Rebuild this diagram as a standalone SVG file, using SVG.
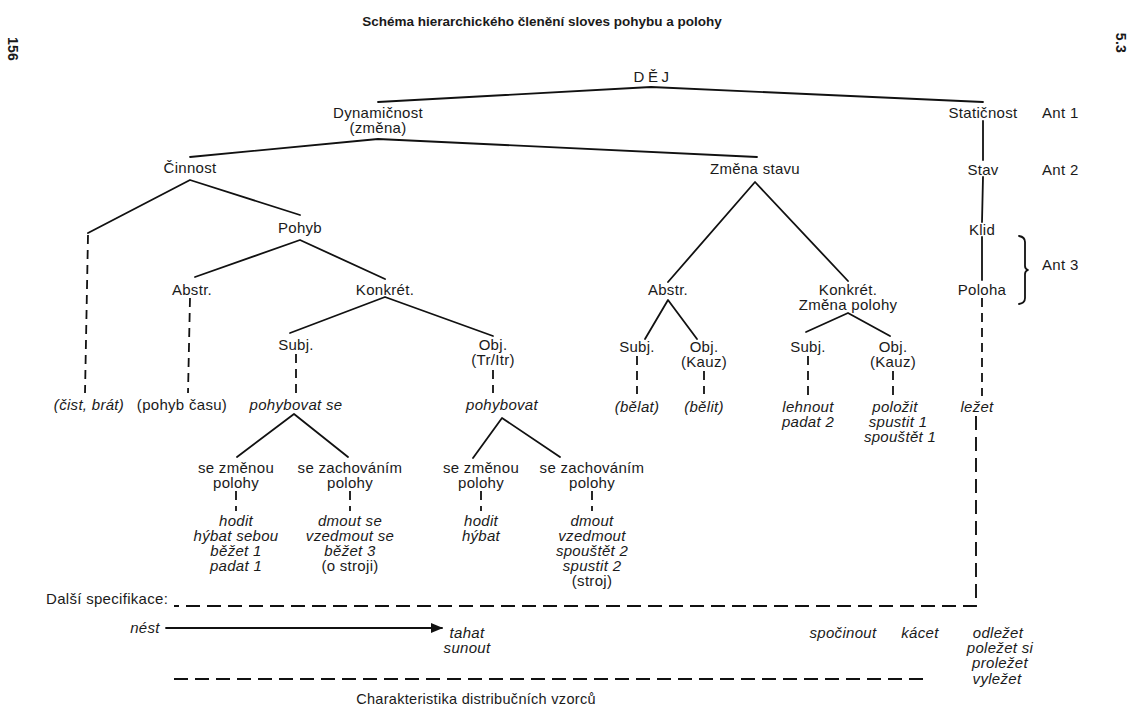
<svg xmlns="http://www.w3.org/2000/svg" width="1129" height="708" viewBox="0 0 1129 708">
  <style>
    text { font-family: "Liberation Sans", Arial, sans-serif; font-size: 15px; letter-spacing: 0.3px; fill: #1a1a1a; text-anchor: middle; }
    .it { font-style: italic; }
    .lbl { text-anchor: start; }
    .title { font-size: 13.5px; font-weight: bold; letter-spacing: 0; }
    .pg { font-size: 14px; font-weight: bold; }
    .cap { font-size: 14.5px; }
    .spaced { letter-spacing: 3.5px; }
    .ln { stroke: #111; stroke-width: 1.8; fill: none; stroke-linecap: round; stroke-linejoin: round; }
    .dv { stroke: #111; stroke-width: 1.8; fill: none; stroke-dasharray: 9 6; }
    .dh { stroke: #111; stroke-width: 1.9; fill: none; stroke-dasharray: 14 7; }
  </style>
  <defs>
    <marker id="arrow" viewBox="0 0 10 10" refX="9" refY="5" markerWidth="7" markerHeight="7" orient="auto">
      <path d="M0,1 L10,5 L0,9 z" fill="#111"/>
    </marker>
  </defs>
  <rect width="1129" height="708" fill="#ffffff"/>

  <!-- page furniture -->
  <text class="title" x="542" y="26">Schéma hierarchického členění sloves pohybu a polohy</text>
  <text class="pg" transform="translate(8,49) rotate(90)">156</text>
  <text class="pg" transform="translate(1116,43) rotate(90)">5.3</text>

  <!-- connectors -->
  <g id="connectors">
    <!-- solid tree edges -->
    <polyline class="ln" points="378,102 651,87 983,102"/>
    <polyline class="ln" points="190,157 378,139 757,157"/>
    <line class="ln" x1="983" y1="121" x2="983" y2="160"/>
    <line class="ln" x1="983" y1="177" x2="982" y2="222"/>
    <line class="ln" x1="982" y1="237" x2="982" y2="280"/>
    <polyline class="ln" points="88,233 190,180 300,215"/>
    <polyline class="ln" points="195,277 300,240 385,279"/>
    <polyline class="ln" points="290,333 385,297 493,336"/>
    <polyline class="ln" points="668,282 755,182 848,281"/>
    <polyline class="ln" points="645,339 668,300 697,339"/>
    <polyline class="ln" points="806,332 848,313 890,336"/>
    <polyline class="ln" points="237,457 294,414 348,457"/>
    <polyline class="ln" points="473,458 502,418 560,457"/>
    <!-- bracket for Ant 3 -->
    <path class="ln" d="M1019,236 q6,1 6,6 v24 q0,3 3,4 q-3,1 -3,4 v24 q0,5 -6,6" stroke-width="1.4"/>

    <!-- dashed links down to the verb rows -->
    <line class="dv" x1="88" y1="235" x2="85" y2="393"/>
    <line class="dv" x1="190" y1="298" x2="188" y2="393"/>
    <line class="dv" x1="296" y1="354" x2="296" y2="393"/>
    <line class="dv" x1="493" y1="370" x2="493" y2="393" stroke-dasharray="6 5"/>
    <line class="dv" x1="637" y1="356" x2="637" y2="394"/>
    <line class="dv" x1="704" y1="371" x2="704" y2="394" stroke-dasharray="6 5"/>
    <line class="dv" x1="808" y1="356" x2="808" y2="396"/>
    <line class="dv" x1="893" y1="371" x2="893" y2="396" stroke-dasharray="6 5"/>
    <line class="dv" x1="982" y1="298" x2="982" y2="396"/>
    <line class="dv" x1="236" y1="491" x2="236" y2="511" stroke-dasharray="7 5"/>
    <line class="dv" x1="350" y1="491" x2="350" y2="511" stroke-dasharray="7 5"/>
    <line class="dv" x1="481" y1="491" x2="481" y2="511" stroke-dasharray="7 5"/>
    <line class="dv" x1="592" y1="491" x2="592" y2="511" stroke-dasharray="7 5"/>

    <!-- further specification frame -->
    <polyline class="dh" points="976,416 976,606 174,606"/>
    <!-- distribution pattern rule -->
    <line class="dh" x1="174" y1="679" x2="930" y2="679"/>
    <!-- nést → tahat arrow -->
    <line class="ln" x1="166" y1="628" x2="442" y2="628" stroke-width="1.4" marker-end="url(#arrow)"/>
  </g>

  <!-- nodes -->
  <g id="n-dej"><text class="spaced" x="653" y="82">DĚJ</text></g>
  <g id="n-dynamicnost"><text x="378" y="118">Dynamičnost</text><text x="378" y="133">(změna)</text></g>
  <g id="n-staticnost"><text x="983" y="118">Statičnost</text></g>
  <g id="n-ant1"><text class="lbl" x="1042" y="118">Ant 1</text></g>
  <g id="n-cinnost"><text x="190" y="173">Činnost</text></g>
  <g id="n-zmena-stavu"><text x="755" y="174">Změna stavu</text></g>
  <g id="n-stav"><text x="983" y="175">Stav</text></g>
  <g id="n-ant2"><text class="lbl" x="1042" y="175">Ant 2</text></g>
  <g id="n-klid"><text x="982" y="235">Klid</text></g>
  <g id="n-poloha"><text x="982" y="295">Poloha</text></g>
  <g id="n-ant3"><text class="lbl" x="1042" y="270">Ant 3</text></g>
  <g id="n-pohyb"><text x="300" y="233">Pohyb</text></g>
  <g id="n-abstr1"><text x="192" y="295">Abstr.</text></g>
  <g id="n-konkret1"><text x="385" y="295">Konkrét.</text></g>
  <g id="n-subj1"><text x="296" y="350">Subj.</text></g>
  <g id="n-obj1"><text x="493" y="350">Obj.</text><text x="493" y="365">(Tr/Itr)</text></g>
  <g id="n-abstr2"><text x="668" y="295">Abstr.</text></g>
  <g id="n-konkret2"><text x="848" y="295">Konkrét.</text><text x="848" y="310">Změna polohy</text></g>
  <g id="n-subj2"><text x="637" y="352">Subj.</text></g>
  <g id="n-obj2"><text x="704" y="352">Obj.</text><text x="704" y="367">(Kauz)</text></g>
  <g id="n-subj3"><text x="808" y="352">Subj.</text></g>
  <g id="n-obj3"><text x="893" y="352">Obj.</text><text x="893" y="367">(Kauz)</text></g>

  <g id="n-cist"><text class="it" x="89" y="410">(čist, brát)</text></g>
  <g id="n-pohyb-casu"><text x="182" y="410">(pohyb času)</text></g>
  <g id="n-pohybovat-se"><text class="it" x="296" y="410">pohybovat se</text></g>
  <g id="n-pohybovat"><text class="it" x="502" y="410">pohybovat</text></g>
  <g id="n-belat"><text class="it" x="637" y="412">(bělat)</text></g>
  <g id="n-belit"><text class="it" x="704" y="412">(bělit)</text></g>
  <g id="n-lehnout"><text class="it" x="808" y="412">lehnout</text><text class="it" x="808" y="427">padat 2</text></g>
  <g id="n-polozit"><text class="it" x="895" y="412">položit</text><text class="it" x="898" y="427">spustit 1</text><text class="it" x="900" y="442">spouštět 1</text></g>
  <g id="n-lezet"><text class="it" x="977" y="412">ležet</text></g>

  <g id="n-se-zmenou1"><text x="236" y="473">se změnou</text><text x="236" y="488">polohy</text></g>
  <g id="n-se-zachovanim1"><text x="350" y="473">se zachováním</text><text x="350" y="488">polohy</text></g>
  <g id="n-se-zmenou2"><text x="481" y="473">se změnou</text><text x="481" y="488">polohy</text></g>
  <g id="n-se-zachovanim2"><text x="592" y="473">se zachováním</text><text x="592" y="488">polohy</text></g>

  <g id="n-hodit1">
    <text class="it" x="236" y="526">hodit</text>
    <text class="it" x="236" y="541">hýbat sebou</text>
    <text class="it" x="236" y="556">běžet 1</text>
    <text class="it" x="236" y="571">padat 1</text>
  </g>
  <g id="n-dmout-se">
    <text class="it" x="350" y="526">dmout se</text>
    <text class="it" x="350" y="541">vzedmout se</text>
    <text class="it" x="350" y="556">běžet 3</text>
    <text x="350" y="571">(o stroji)</text>
  </g>
  <g id="n-hodit2">
    <text class="it" x="481" y="526">hodit</text>
    <text class="it" x="481" y="541">hýbat</text>
  </g>
  <g id="n-dmout">
    <text class="it" x="592" y="526">dmout</text>
    <text class="it" x="592" y="541">vzedmout</text>
    <text class="it" x="592" y="556">spouštět 2</text>
    <text class="it" x="592" y="571">spustit 2</text>
    <text x="592" y="586">(stroj)</text>
  </g>

  <g id="n-dalsi"><text class="lbl" x="46" y="604">Další specifikace:</text></g>
  <g id="n-nest"><text class="it" x="145" y="633">nést</text></g>
  <g id="n-tahat"><text class="it" x="467" y="638">tahat</text><text class="it" x="467" y="653">sunout</text></g>
  <g id="n-spocinout"><text class="it" x="843" y="638">spočinout</text></g>
  <g id="n-kacet"><text class="it" x="920" y="638">kácet</text></g>
  <g id="n-odlezet">
    <text class="it" x="998" y="638">odležet</text>
    <text class="it" x="1000" y="653">poležet si</text>
    <text class="it" x="1000" y="668">proležet</text>
    <text class="it" x="997" y="684">vyležet</text>
  </g>
  <g id="n-charakteristika"><text class="cap" x="476" y="704">Charakteristika distribučních vzorců</text></g>
</svg>
